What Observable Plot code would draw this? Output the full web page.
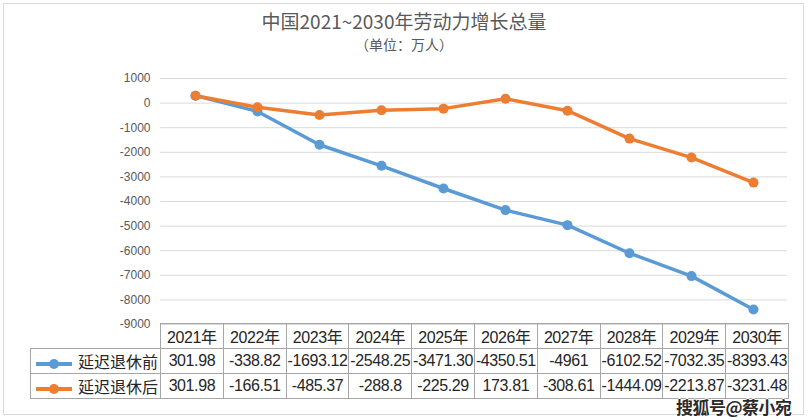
<!DOCTYPE html>
<html><head><meta charset="utf-8">
<script src="https://cdn.jsdelivr.net/npm/d3@7"></script>
<script src="https://cdn.jsdelivr.net/npm/@observablehq/plot@0.6"></script>
<style>
body{margin:0;background:#fff;font-family:"Noto Sans CJK SC","Liberation Sans",sans-serif;}
#wrap{position:relative;width:808px;height:420px;overflow:hidden;background:#fff;}
#frame{position:absolute;left:3px;top:3px;width:801px;height:412px;border:1px solid #d9d9d9;box-sizing:border-box;}
#title{position:absolute;left:0;width:808px;top:9px;text-align:center;font-size:19px;color:#595959;line-height:24px;}
#sub{position:absolute;left:0;width:808px;top:35px;text-align:center;font-size:14px;color:#595959;line-height:18px;}
#plot{position:absolute;left:0;top:58px;}
table{position:absolute;left:30px;top:323px;border-collapse:collapse;table-layout:fixed;width:758px;font-size:16px;color:#262626;font-family:"Liberation Sans","Noto Sans CJK SC",sans-serif;}
td{border:1px solid #a6a6a6;height:24px;padding:0;text-align:center;white-space:nowrap;overflow:visible;letter-spacing:-0.4px;}
td.blank{border:none;border-right:1px solid #a6a6a6;}
td.leg{text-align:right;padding-right:2px;font-family:"Noto Sans CJK SC",sans-serif;letter-spacing:0;font-size:16px;}
#wm{position:absolute;left:676px;top:394px;font-size:17px;font-weight:bold;color:#2a2a2a;font-family:"Noto Sans CJK SC",sans-serif;text-shadow:1px 0 #fff,-1px 0 #fff,0 1px #fff,0 -1px #fff;letter-spacing:-0.5px;}
</style></head>
<body>
<div id="wrap">
<div id="frame"></div>
<div id="title">中国2021~2030年劳动力增长总量</div>
<div id="sub">（单位：万人）</div>
<div id="plot"></div>
<div id="tbl"></div>
<div id="wm">搜狐号@蔡小宛</div>
</div>
<script>
const years = ["2021年","2022年","2023年","2024年","2025年","2026年","2027年","2028年","2029年","2030年"];
const seriesNames = ["延迟退休前","延迟退休后"];
const before = [301.98,-338.82,-1693.12,-2548.25,-3471.30,-4350.51,-4961,-6102.52,-7032.35,-8393.43];
const after  = [301.98,-166.51,-485.37,-288.8,-225.29,173.81,-308.61,-1444.09,-2213.87,-3231.48];
const beforeLabels = ["301.98","-338.82","-1693.12","-2548.25","-3471.30","-4350.51","-4961","-6102.52","-7032.35","-8393.43"];
const afterLabels  = ["301.98","-166.51","-485.37","-288.8","-225.29","173.81","-308.61","-1444.09","-2213.87","-3231.48"];
const yTicks = [1000,0,-1000,-2000,-3000,-4000,-5000,-6000,-7000,-8000,-9000];
const colors = ["#5b9bd5","#ed7d31"];

const data = [];
years.forEach((y,i)=>{
  data.push({year:y, series:seriesNames[0], value:before[i]});
  data.push({year:y, series:seriesNames[1], value:after[i]});
});

const chart = Plot.plot({
  width:808, height:280,
  marginLeft:160, marginRight:21, marginTop:20, marginBottom:14,
  style:{fontFamily:"Liberation Sans, sans-serif", fontSize:"12px", color:"#595959", background:"transparent"},
  x:{type:"point", domain:years, padding:0.5, axis:null},
  y:{domain:[-9000,1000], ticks:yTicks, tickFormat:d=>String(d), label:null},
  color:{domain:seriesNames, range:colors},
  marks:[
    Plot.gridY(yTicks, {stroke:"#d9d9d9", strokeOpacity:1, strokeWidth:1}),
    Plot.axisY(yTicks, {tickSize:0, tickPadding:10, fill:"#595959", fontSize:12, label:null, tickFormat:d=>String(d), style:"letter-spacing:1px"}),
    Plot.line(data, {x:"year", y:"value", stroke:"series", strokeWidth:3.5, curve:"linear"}),
    Plot.dot(data, {x:"year", y:"value", fill:"series", r:5})
  ]
});
document.getElementById("plot").appendChild(chart);

// data table
let html = "<colgroup><col style='width:130px'>" + years.map(()=>"<col style='width:62.8px'>").join("") + "</colgroup>";
html += "<tr><td class='blank'></td>" + years.map(y=>`<td>${y}</td>`).join("") + "</tr>";
const legendSwatch = c => `<svg width="40" height="12" style="vertical-align:middle;margin-right:4px"><line x1="2" x2="38" y1="6" y2="6" stroke="${c}" stroke-width="4"/><circle cx="20" cy="6" r="5" fill="${c}"/></svg>`;
[[beforeLabels,0],[afterLabels,1]].forEach(([labels,k])=>{
  html += `<tr><td class='leg'>${legendSwatch(colors[k])}${seriesNames[k]}</td>` + labels.map(v=>`<td>${v}</td>`).join("") + "</tr>";
});
document.getElementById("tbl").innerHTML = "<table>"+html+"</table>";
</script>
</body></html>
